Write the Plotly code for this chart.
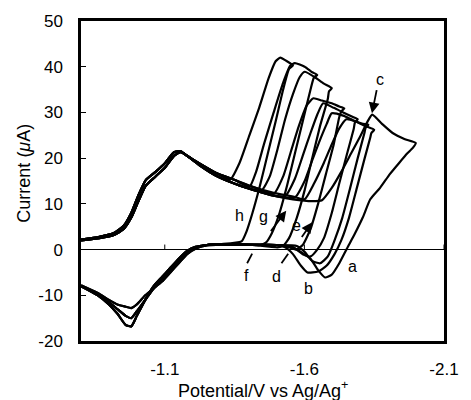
import plotly.graph_objects as go

# ---------------- data ----------------
# common forward (upper) branch: potential (V) and current (uA), two close variants
upper_E = [-0.800, -0.866, -0.918, -0.953, -0.980, -1.005, -1.032, -1.067, -1.102, -1.133,
           -1.157, -1.185, -1.230, -1.282, -1.351, -1.420, -1.490, -1.559, -1.628, -1.680]
upper_I_hi = [2.2, 2.8, 3.6, 5.2, 8.0, 11.8, 15.2, 17.0, 19.0, 21.3,
              21.5, 20.3, 18.6, 16.8, 15.2, 13.6, 12.4, 11.6, 11.2, 11.0]
upper_I_lo = [2.0, 2.5, 3.2, 4.5, 7.0, 10.5, 14.0, 16.0, 18.0, 20.5,
              21.3, 20.3, 18.2, 16.2, 14.4, 13.0, 11.8, 11.0, 10.6, 10.5]

# common reverse (lower) branch, three close variants
lower_E = [-1.60, -1.50, -1.40, -1.30, -1.25, -1.21, -1.18, -1.15, -1.12, -1.09,
           -1.06, -1.03, -1.00, -0.98, -0.96, -0.93, -0.90, -0.86, -0.80]
lower_I_deep = [0.8, 1.0, 1.1, 1.2, 1.0, 0.6, -0.3, -2.0, -4.0, -6.0,
                -8.0, -11.0, -14.5, -16.8, -16.5, -14.0, -12.0, -10.0, -8.0]
lower_I_mid = [0.8, 1.0, 1.1, 1.2, 1.0, 0.4, -0.5, -2.5, -4.5, -6.5,
               -8.5, -11.0, -13.5, -15.0, -14.5, -13.0, -11.5, -9.8, -8.0]
lower_I_shallow = [0.8, 1.0, 1.0, 1.1, 0.9, 0.2, -1.0, -3.0, -5.0, -7.0,
                   -8.5, -10.0, -12.0, -12.8, -12.5, -12.0, -11.0, -9.5, -7.8]

# catalytic part of each curve (forward rise, switching, reverse fall)
h_E = [-1.334, -1.368, -1.403, -1.438, -1.472, -1.497, -1.514, -1.535, -1.559,
       -1.545, -1.524, -1.497, -1.469, -1.441, -1.414, -1.393, -1.375]
h_I = [15.3, 19.0, 25.0, 31.0, 37.5, 41.2, 42.0, 41.3, 40.3,
       39.5, 35.0, 28.0, 21.0, 14.0, 8.0, 4.0, 1.8]

g_E = [-1.403, -1.427, -1.455, -1.490, -1.524, -1.549, -1.566, -1.601, -1.628, -1.646,
       -1.634, -1.622, -1.594, -1.566, -1.538, -1.511, -1.483, -1.462, -1.441]
g_I = [13.7, 17.0, 23.0, 30.0, 36.5, 40.2, 40.8, 40.0, 38.8, 38.2,
       37.6, 35.0, 28.0, 21.0, 14.0, 8.0, 3.5, 1.5, 1.0]

f_E = [-1.448, -1.476, -1.504, -1.531, -1.559, -1.583, -1.601, -1.635, -1.670, -1.698,
       -1.688, -1.684, -1.656, -1.628, -1.601, -1.573, -1.545, -1.524, -1.504]
f_I = [13.0, 16.0, 22.0, 28.5, 34.0, 37.7, 38.9, 37.8, 36.3, 35.3,
       34.6, 33.0, 27.0, 20.0, 13.0, 7.0, 2.5, 0.8, 0.5]

e_E = [-1.490, -1.524, -1.552, -1.580, -1.608, -1.632, -1.663, -1.698, -1.725, -1.743,
       -1.733, -1.725, -1.705, -1.677, -1.649, -1.622, -1.594, -1.570, -1.545]
e_I = [12.2, 16.0, 21.5, 27.0, 31.5, 33.1, 32.6, 32.0, 31.3, 30.9,
       30.3, 29.0, 23.0, 16.5, 10.0, 4.5, 1.0, 0.0, 0.5]

d_E = [-1.531, -1.566, -1.594, -1.622, -1.646, -1.667, -1.705, -1.739, -1.774, -1.791,
       -1.781, -1.777, -1.753, -1.725, -1.698, -1.670, -1.646, -1.622, -1.594, -1.559]
d_I = [11.7, 15.5, 20.5, 25.5, 29.5, 32.0, 31.0, 30.0, 29.0, 28.5,
       27.8, 26.5, 21.0, 14.5, 8.0, 2.5, 0.0, -1.5, -1.0, 0.5]

c_E = [-1.566, -1.601, -1.628, -1.656, -1.680, -1.698, -1.739, -1.774, -1.809, -1.829,
       -1.819, -1.815, -1.791, -1.764, -1.736, -1.708, -1.684, -1.656, -1.628, -1.601, -1.573]
c_I = [11.4, 15.0, 19.5, 24.0, 27.5, 29.8, 29.3, 28.3, 27.5, 27.3,
       26.6, 25.5, 20.0, 13.5, 7.0, 2.0, -1.5, -3.0, -2.5, -0.5, 0.8]

b_E = [-1.601, -1.635, -1.670, -1.698, -1.725, -1.750, -1.784, -1.819, -1.850,
       -1.840, -1.836, -1.816, -1.788, -1.760, -1.732, -1.708, -1.680, -1.649, -1.611,
       -1.587, -1.559, -1.531]
b_I = [11.0, 14.5, 19.0, 23.0, 26.5, 28.5, 28.0, 27.0, 26.2,
       25.5, 24.5, 20.0, 13.5, 7.0, 2.0, -1.0, -3.5, -4.8, -5.0,
       -3.5, -1.0, 0.5]

a_E = [-1.663, -1.698, -1.732, -1.767, -1.802, -1.826, -1.843, -1.878, -1.916, -1.958, -1.999,
       -1.989, -1.968, -1.940, -1.906, -1.871, -1.836, -1.809, -1.781, -1.753, -1.725,
       -1.698, -1.674, -1.649, -1.622, -1.594, -1.559]
a_I = [10.8, 13.5, 17.0, 21.0, 25.0, 28.0, 29.5, 27.5, 25.5, 24.2, 23.3,
       22.3, 21.0, 19.0, 16.5, 13.5, 11.0, 7.0, 3.5, 0.3, -3.0,
       -5.5, -6.1, -4.5, -2.0, -0.8, 0.5]

curve_names = ["h", "g", "f", "e", "d", "c", "b", "a"]
curve_parts = {
    "h": (h_E, h_I, upper_I_hi, lower_I_deep),
    "g": (g_E, g_I, upper_I_hi, lower_I_deep),
    "f": (f_E, f_I, upper_I_lo, lower_I_mid),
    "e": (e_E, e_I, upper_I_hi, lower_I_mid),
    "d": (d_E, d_I, upper_I_lo, lower_I_shallow),
    "c": (c_E, c_I, upper_I_lo, lower_I_deep),
    "b": (b_E, b_I, upper_I_hi, lower_I_shallow),
    "a": (a_E, a_I, upper_I_lo, lower_I_mid),
}

# curve labels (potential, current)
label_text = ["a", "b", "c", "d", "e", "f", "g", "h"]
label_E = [-1.771, -1.615, -1.871, -1.500, -1.573, -1.393, -1.452, -1.368]
label_I = [-3.7, -8.5, 37.2, -5.9, 5.2, -5.65, 7.2, 7.4]

# arrows: (tail E, tail I, head E, head I)
arrow_list = [(-1.860, 35.2, -1.842, 29.8), (-1.476, 3.7, -1.535, 8.5), (-1.587, 2.4, -1.628, 6.0)]
pointer_lines = [(-1.395, -3.0, -1.413, -0.9), (-1.518, -3.0, -1.542, -0.9)]

x_ticks = [-1.1, -1.6, -2.1]
y_ticks = [-20, -10, 0, 10, 20, 30, 40, 50]

# ---------------- figure ----------------
FONT = "Arial, Liberation Sans, Helvetica, sans-serif"
fig = go.Figure()

for name in curve_names:
    cE, cI, upI, lowI = curve_parts[name]
    onset, end = cE[0], cE[-1]
    E = [e for e in upper_E if e > onset + 0.01] + cE + [e for e in lower_E if e > end + 0.005]
    I = ([i for e, i in zip(upper_E, upI) if e > onset + 0.01] + cI +
         [i for e, i in zip(lower_E, lowI) if e > end + 0.005])
    fig.add_trace(go.Scatter(x=E, y=I, mode="lines", name=name, showlegend=False,
                             line=dict(color="black", width=2.2, shape="spline", smoothing=0.5)))

annotations = []
for t, e, i in zip(label_text, label_E, label_I):
    annotations.append(dict(x=e, y=i, xref="x", yref="y", text=t, showarrow=False,
                            font=dict(family=FONT, size=16, color="black")))
for (te, ti, he, hi) in arrow_list:
    annotations.append(dict(x=he, y=hi, ax=te, ay=ti, xref="x", yref="y", axref="x", ayref="y",
                            text="", showarrow=True, arrowhead=2, arrowsize=1.2, arrowwidth=1.8,
                            arrowcolor="black"))

annotations.append(dict(x=0.5, y=-0.152, xref="paper", yref="paper", showarrow=False,
                        text="Potential/V vs Ag/Ag<sup>+</sup>", xanchor="center", yanchor="middle",
                        font=dict(family=FONT, size=18, color="black")))
annotations.append(dict(x=-0.158, y=0.525, xref="paper", yref="paper", showarrow=False,
                        text="Current (<i>μ</i>A)", textangle=-90, xanchor="center", yanchor="middle",
                        font=dict(family=FONT, size=18, color="black")))

shapes = []
for (x0, y0, x1, y1) in pointer_lines:
    shapes.append(dict(type="line", xref="x", yref="y", x0=x0, y0=y0, x1=x1, y1=y1,
                       line=dict(color="black", width=1.8)))
for xt in x_ticks:
    shapes.append(dict(type="line", xref="x", yref="y", x0=xt, y0=0, x1=xt, y1=1.1,
                       line=dict(color="black", width=1)))

fig.update_layout(
    width=471, height=400,
    margin=dict(l=81, r=16, t=19, b=59),
    paper_bgcolor="white", plot_bgcolor="white",
    font=dict(family=FONT, size=17, color="black"),
    annotations=annotations, shapes=shapes,
    xaxis=dict(range=[-0.8, -2.1], tickmode="array", tickvals=x_ticks,
               ticktext=[f"{v:.1f}" for v in x_ticks], ticks="", showgrid=False,
               zeroline=False, showline=True, linecolor="black", linewidth=2.5, mirror=True,
               ticklabelstandoff=11, tickfont=dict(size=17)),
    yaxis=dict(range=[-20, 50], tickmode="array", tickvals=y_ticks,
               ticktext=[str(v) for v in y_ticks], ticks="inside", ticklen=5, tickwidth=1,
               tickcolor="black", showgrid=False, zeroline=True, zerolinecolor="black",
               zerolinewidth=1, showline=True, linecolor="black", linewidth=2.5, mirror=True,
               ticklabelstandoff=12, tickfont=dict(size=17)),
)

fig.write_html("out.html")
